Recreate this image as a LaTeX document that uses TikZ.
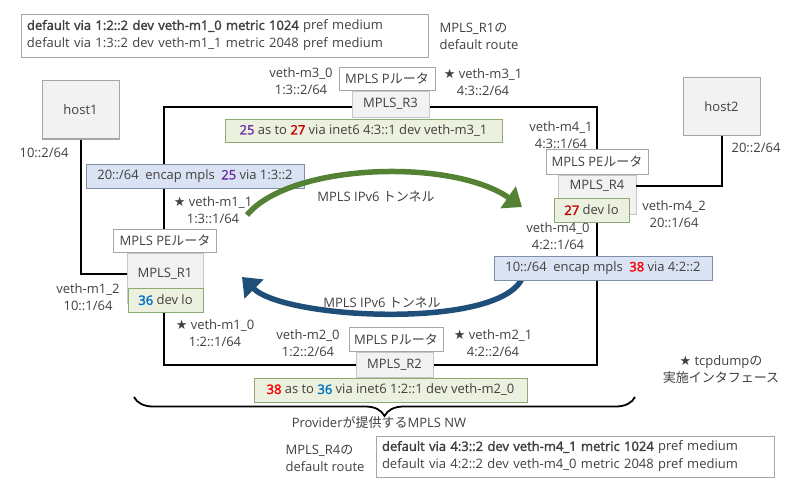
\documentclass[tikz,border=0pt]{standalone}
\usepackage{fontspec}
\setmainfont{Open Sans}[AutoFakeBold=2]
\newfontfamily\jp{Noto Sans CJK JP}
\newfontfamily\symfont{DejaVu Sans}
\usetikzlibrary{arrows.meta,positioning,decorations.pathreplacing}

\definecolor{txtgray}{HTML}{404040}
\definecolor{boxgray}{HTML}{F2F2F2}
\definecolor{linegray}{HTML}{A6A6A6}
\definecolor{rtfill}{HTML}{EBF1DE}
\definecolor{rtline}{HTML}{8FA972}
\definecolor{encfill}{HTML}{DAE3F3}
\definecolor{encline}{HTML}{7F8FA9}
\definecolor{numpurple}{HTML}{7030A0}
\definecolor{numdred}{HTML}{C00000}
\definecolor{numblue}{HTML}{0070C0}
\definecolor{numred}{HTML}{FF0000}
\definecolor{tungreen}{HTML}{548235}
\definecolor{tunblue}{HTML}{1F4E79}

\newcommand{\lbl}[2]{\textbf{\color{#1}#2}}
\newcommand{\tapstar}{{\symfont ★}\ }

\tikzset{
  hostbox/.style={draw=linegray,fill=boxgray,line width=1pt,minimum width=77pt,minimum height=58pt},
  rbox/.style={draw=gray!45,fill=boxgray,line width=0.8pt},
  rolebox/.style={draw=linegray,fill=white,line width=0.8pt,minimum height=23pt,inner sep=0pt},
  rtbox/.style={draw=rtline,fill=rtfill,line width=0.8pt,minimum height=24pt,inner sep=0pt},
  encbox/.style={draw=encline,fill=encfill,line width=0.8pt,minimum height=24pt,inner sep=0pt},
  routebox/.style={draw=linegray,fill=white,line width=0.8pt,align=left,inner xsep=6pt,
    font=\fontsize{13}{18}\selectfont},
  ifname/.style={align=center,font=\fontsize{13}{17}\selectfont},
  loopline/.style={line width=2.5pt,black},
  wire/.style={line width=2pt,black},
  tunnel/.style={line width=5.5pt,-{Triangle[length=17pt,width=26pt]}}
}

\begin{document}
\begin{tikzpicture}[x=1pt,y=-1pt,font=\fontsize{13}{17}\selectfont,text=txtgray]
\useasboundingbox (0,0) rectangle (800,500);

% ports on the provider loop
\coordinate (r1p) at (164,278);
\coordinate (r3p) at (390,107);
\coordinate (r4p) at (597,194);
\coordinate (r2p) at (395,365);
\draw[loopline] (r1p) |- (r3p) -| (r4p) |- (r2p) -| (r1p);

% hosts
\node[hostbox] (host1) at (80.5,110) {host1};
\node[hostbox] (host2) at (721.5,106.5) {host2};

% routers
\node[rbox,minimum width=76pt,minimum height=50pt] (r1) at (165,278) {};
\node (r1name) at (165,274) {MPLS\_R1};
\node[rbox,minimum width=77pt,minimum height=26pt] (r3) at (390.5,104) {MPLS\_R3};
\node[rbox,minimum width=78pt,minimum height=39pt] (r4) at (597,194.5) {};
\node (r4name) at (597,186) {MPLS\_R4};
\node[rbox,minimum width=77pt,minimum height=25pt] (r2) at (394.5,364.5) {MPLS\_R2};

\draw[wire] (host1.south) |- (r1.west |- r1name);
\draw[wire] (host2.south) |- (r4.east |- r4name);

% tunnel r4 -> r1
\coordinate (b0) at (523,276);
\coordinate (b1) at (242,277);
\draw[tunnel,tunblue] (b0) .. controls (505,330) and (285,320) .. (b1);

\node[rolebox,minimum width=103pt,above=0pt of r1] (r1lbl) {MPLS PE{\jp ルータ}};
\node[rolebox,minimum width=96pt,above=0pt of r3,xshift=-3.5pt] (r3lbl) {MPLS P{\jp ルータ}};
\node[rolebox,minimum width=102pt,minimum height=25pt,above=0pt of r4] (r4lbl) {MPLS PE{\jp ルータ}};
\node[rolebox,minimum width=94pt,minimum height=24pt,above=0pt of r2,xshift=1.5pt] (r2lbl) {MPLS P{\jp ルータ}};

% label tables
\node[rtbox,minimum width=75pt] (r1rt) at (165.5,300) {\lbl{numblue}{36} dev lo};
\node[rtbox,minimum width=277pt,minimum height=23pt] (r3rt) at (363.5,130.5)
  {\lbl{numpurple}{25} as to \lbl{numdred}{27} via inet6 4:3::1 dev veth-m3\_1};
\node[rtbox,minimum width=75pt] (r4rt) at (591.5,210) {\lbl{numdred}{27} dev lo};
\node[rtbox,minimum width=273pt] (r2rt) at (390.5,390)
  {\lbl{numred}{38} as to \lbl{numblue}{36} via inet6 1:2::1 dev veth-m2\_0};
\node[encbox,minimum width=218pt] (r1enc) at (195,176)
  {20::/64\enspace encap mpls\enspace \lbl{numpurple}{25} via 1:3::2};
\node[encbox,minimum width=218pt] (r4enc) at (603,268)
  {10::/64\enspace encap mpls\enspace \lbl{numred}{38} via 4:2::2};

% interfaces
\node[ifname] (h1addr) at (44,153) {10::2/64};
\node[ifname] (h2addr) at (756,148) {20::2/64};
\node[ifname] (m12) at (88,297.5) {veth-m1\_2\\10::1/64};
\node[ifname] (m11) at (213,210) {\tapstar veth-m1\_1\\1:3::1/64};
\node[ifname] (m10) at (215,333) {\tapstar veth-m1\_0\\1:2::1/64};
\node[ifname] (m30) at (301,81.5) {veth-m3\_0\\1:3::2/64};
\node[ifname] (m31) at (483,82) {\tapstar veth-m3\_1\\4:3::2/64};
\node[ifname] (m41) at (561,135.5) {veth-m4\_1\\4:3::1/64};
\node[ifname] (m42) at (674,214.5) {veth-m4\_2\\20::1/64};
\node[ifname] (m40) at (558,236) {veth-m4\_0\\4:2::1/64};
\node[ifname] (m20) at (308,343) {veth-m2\_0\\1:2::2/64};
\node[ifname] (m21) at (493,343) {\tapstar veth-m2\_1\\4:2::2/64};

% default routes
\node[routebox,text width=395pt,minimum height=43pt] (r1route) at (224.5,35.5)
  {\textbf{default via 1:2::2 dev veth-m1\_0 metric 1024} pref medium\\
   default via 1:3::2 dev veth-m1\_1 metric 2048 pref medium};
\node[anchor=west,align=left] (r1note) at (436,36) {MPLS\_R1{\jp の}\\default route};
\node[routebox,text width=386pt,minimum height=41pt] (r4route) at (575,456.5)
  {\textbf{default via 4:3::2 dev veth-m4\_1 metric 1024} pref medium\\
   default via 4:2::2 dev veth-m4\_0 metric 2048 pref medium};
\node[anchor=west,align=left] (r4note) at (282,458) {MPLS\_R4{\jp の}\\default route};

% tunnel r1 -> r4
\coordinate (g0) at (247,215);
\coordinate (g1) at (522,207);
\draw[tunnel,tungreen] (g0) .. controls (290,163) and (452,158) .. (g1);
\node (tun14) at (376,197) {MPLS IPv6 {\jp トンネル}};
\node (tun41) at (382,303) {MPLS IPv6 {\jp トンネル}};

% provider network
\coordinate (nwl) at (134,397);
\coordinate (nwr) at (635,397);
\draw[decorate,decoration={brace,mirror,amplitude=19pt},line width=1.8pt] (nwl) -- (nwr);
\node (provider) at (379,423) {Provider{\jp が提供する}MPLS NW};

\node[ifname] (legend) at (721,370) {\tapstar tcpdump{\jp の}\\{\jp 実施インタフェース}};
\end{tikzpicture}
\end{document}
